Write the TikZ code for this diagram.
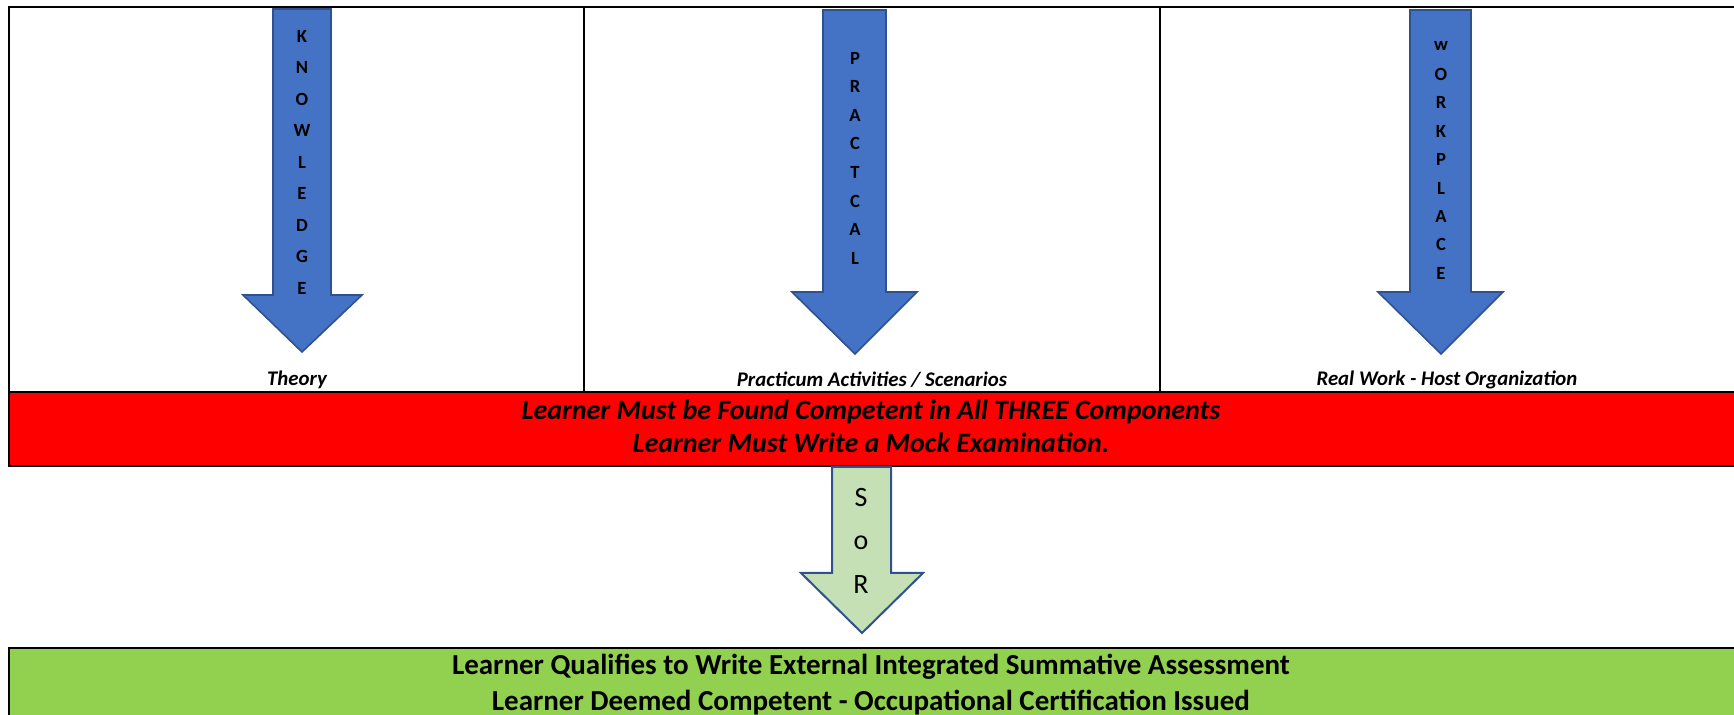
\documentclass[tikz,border=0pt]{standalone}
\usepackage{fontspec}
\setmainfont{Carlito}
\definecolor{arrowblue}{HTML}{4472C4}
\definecolor{arrowedge}{HTML}{2F528F}
\definecolor{sorgreen}{HTML}{C5E0B4}
\definecolor{barred}{HTML}{FF0000}
\definecolor{bargreen}{HTML}{92D050}

\begin{document}
\begin{tikzpicture}[x=0.5pt,y=-0.5pt,
                    gridline/.style={draw=black, line width=1pt},
                    cellline/.style={draw=black, line width=0.75pt},
                    barline/.style={draw=black, line width=1.25pt},
                    bluearrow/.style={fill=arrowblue, draw=arrowedge, line width=0.8pt},
                    sorarrow/.style={fill=sorgreen, draw=arrowedge, line width=1pt},
                    arrowletter/.style={inner sep=0pt, font=\fontsize{9.3}{10}\selectfont\bfseries},
                    sorletter/.style={inner sep=0pt, font=\fontsize{14}{16}\selectfont},
                    celllabel/.style={inner sep=0pt, font=\fontsize{10.4}{12}\selectfont\bfseries\itshape},
                    redtext/.style={inner sep=0pt, align=center, font=\fontsize{14}{16.5}\selectfont\bfseries\itshape},
                    greentext/.style={inner sep=0pt, align=center, font=\fontsize{14.5}{18}\selectfont\bfseries}]
    \useasboundingbox (0,0) rectangle (1734,715);
    % bars
    \fill[barred] (9,392) rectangle (1734,466);
    \fill[bargreen] (9,648) rectangle (1734,715);
    % table
    \draw[gridline] (1734,7) -- (9,7) -- (9,392);
    \draw[cellline] (584,7) -- (584,392);
    \draw[cellline] (1160,7) -- (1160,392);
    \draw[barline] (1734,392) -- (9,392) -- (9,466) -- (1734,466);
    \draw[barline] (1734,648) -- (9,648) -- (9,715);
    % block arrows
    \draw[bluearrow] (273,9) -- (331,9) -- (331,295) -- (362,295) -- (302,352) -- (243,295) -- (273,295) -- cycle;
    \draw[bluearrow] (823,10) -- (886,10) -- (886,292) -- (917,292) -- (855,354) -- (792,292) -- (823,292) -- cycle;
    \draw[bluearrow] (1410,10) -- (1471,10) -- (1471,292) -- (1503,292) -- (1441,354) -- (1378,292) -- (1410,292) -- cycle;
    \draw[sorarrow] (832,467) -- (891,467) -- (891,573) -- (923,573) -- (862,633) -- (801,573) -- (832,573) -- cycle;
    % arrow letters
    \foreach \l [count=\i] in {K,N,O,W,L,E,D,G,E}
        \node[arrowletter] (know\i) at (302,{36+31.5*(\i-1)}) {\l};
    \foreach \l [count=\i] in {P,R,A,C,T,C,A,L}
        \node[arrowletter] (prac\i) at (855,{58+28.6*(\i-1)}) {\l};
    \foreach \l [count=\i] in {w,O,R,K,P,L,A,C,E}
        \node[arrowletter] (work\i) at (1441,{46+28.4*(\i-1)}) {\l};
    \node[sorletter] (sor1) at (861,498) {S};
    \node[sorletter] (sor2) at (861,543) {o};
    \node[sorletter] (sor3) at (861,585) {R};
    % labels
    \node[celllabel] (theory) at (297,380) {Theory};
    \node[celllabel] (practicum) at (872,380) {Practicum Activities / Scenarios};
    \node[celllabel] (realwork) at (1447,380) {Real Work - Host Organization};
    \node[redtext] (mustbe) at (871,426) {Learner Must be Found Competent in All THREE Components\\Learner Must Write a Mock Examination.};
    \node[greentext] (qualifies) at (871,685) {Learner Qualifies to Write External Integrated Summative Assessment\\Learner Deemed Competent - Occupational Certification Issued};
\end{tikzpicture}
\end{document}
